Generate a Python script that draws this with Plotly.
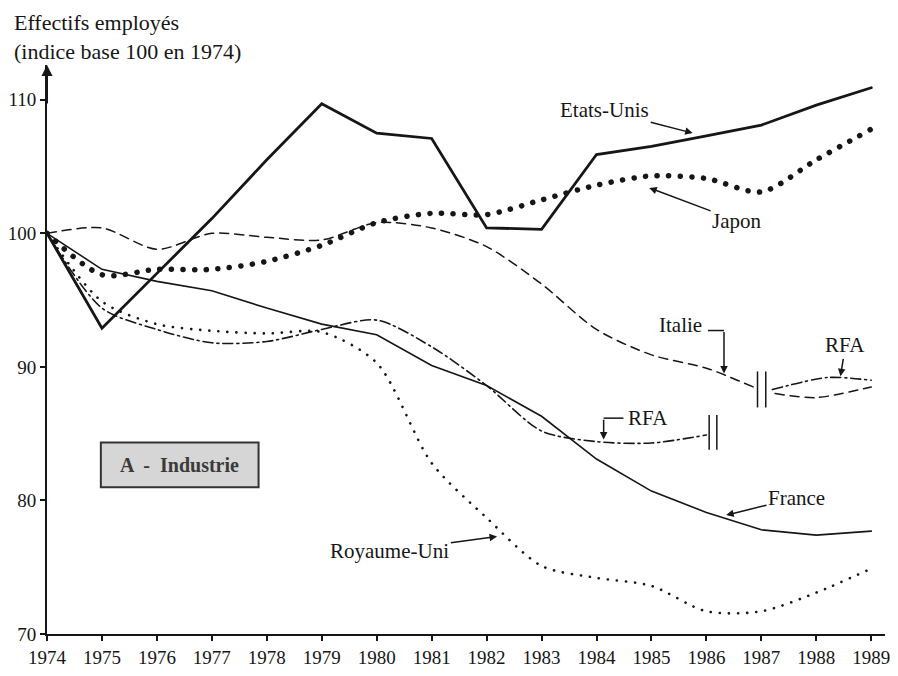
import plotly.graph_objects as go

# indices base 100 en 1974
annees = list(range(1974, 1990))
etats_unis = [100, 92.9, 97.0, 101.1, 105.5, 109.7, 107.5, 107.1, 100.4, 100.3, 105.9, 106.5, 107.3, 108.1, 109.6, 110.9]
japon = [100, 96.9, 97.3, 97.3, 97.9, 99.1, 100.8, 101.5, 101.4, 102.5, 103.6, 104.3, 104.1, 103.1, 105.5, 107.8]
france = [100, 97.3, 96.4, 95.7, 94.4, 93.2, 92.4, 90.1, 88.6, 86.3, 83.1, 80.7, 79.1, 77.8, 77.4, 77.7]
royaume_uni = [100, 94.9, 93.2, 92.7, 92.5, 92.6, 90.3, 82.8, 78.7, 75.1, 74.2, 73.6, 71.7, 71.7, 73.1, 74.9]

# series avec rupture (ancienne / nouvelle serie)
italie_annees = [1974, 1975, 1976, 1977, 1978, 1979, 1980, 1981, 1982, 1983, 1984, 1985, 1986, 1986.85]
italie = [100, 100.4, 98.8, 100.0, 99.7, 99.5, 100.8, 100.4, 99.0, 96.2, 92.8, 90.9, 89.9, 88.5]
italie_annees_2 = [1987.25, 1988, 1989]
italie_2 = [88.0, 87.7, 88.5]

rfa_annees = list(range(1974, 1987))
rfa = [100, 94.4, 92.8, 91.8, 91.9, 92.8, 93.5, 91.5, 88.6, 85.2, 84.4, 84.3, 84.9]
rfa_annees_2 = [1987.2, 1988.2, 1989]
rfa_2 = [88.3, 89.2, 89.0]

ticks_y = [70, 80, 90, 100, 110]

INK = "#161616"
SERIF = "Liberation Serif"

fig = go.Figure()
fig.add_trace(go.Scatter(x=annees, y=etats_unis, mode="lines", line=dict(color=INK, width=2.8)))
fig.add_trace(go.Scatter(x=annees, y=france, mode="lines", line=dict(color=INK, width=1.6)))
fig.add_trace(go.Scatter(x=annees, y=japon, mode="lines",
                         line=dict(color=INK, width=5.5, dash="0.1px,11.5px", shape="spline", smoothing=0.8)))
fig.add_trace(go.Scatter(x=annees, y=royaume_uni, mode="lines",
                         line=dict(color=INK, width=2.6, dash="0.1px,9px", shape="spline", smoothing=0.8)))
for xs, ys in [(italie_annees, italie), (italie_annees_2, italie_2)]:
    fig.add_trace(go.Scatter(x=xs, y=ys, mode="lines",
                             line=dict(color=INK, width=1.5, dash="9px,6px", shape="spline", smoothing=0.8)))
for xs, ys in [(rfa_annees, rfa), (rfa_annees_2, rfa_2)]:
    fig.add_trace(go.Scatter(x=xs, y=ys, mode="lines",
                             line=dict(color=INK, width=1.6, dash="10px,4px,2px,4px", shape="spline", smoothing=0.8)))

label_font = dict(family=SERIF, size=21, color=INK)
arrow = dict(showarrow=True, arrowhead=2, arrowsize=1, arrowwidth=1.5, arrowcolor=INK,
             axref="x", ayref="y", font=label_font)

annotations = [
    # titre de l'axe
    dict(text="Effectifs employés<br>(indice base 100 en 1974)", xref="paper", yref="paper",
         x=-0.0415, y=1.1, xanchor="left", yanchor="top", align="left", showarrow=False,
         font=dict(family=SERIF, size=22, color=INK)),
    # fleche de l'axe vertical
    dict(text="", xref="paper", yref="paper", x=0, y=1.0, ax=0, ay=40, showarrow=True,
         arrowhead=2, arrowsize=1.1, arrowwidth=2, arrowcolor=INK),
    dict(text="Etats-Unis", x=1985.75, y=107.5, ax=1984.15, ay=109.2, **arrow),
    dict(text="Japon", x=1984.96, y=103.4, ax=1986.55, ay=100.95, **arrow),
    dict(text="France", x=1986.36, y=78.9, ax=1987.64, ay=80.2, **arrow),
    dict(text="Royaume-Uni", x=1982.19, y=77.3, ax=1980.24, ay=76.2, **arrow),
    dict(text="RFA", x=1988.44, y=89.3, ax=1988.53, ay=91.6, **arrow),
    dict(text="Italie", x=1985.52, y=93.1, showarrow=False, font=label_font),
    dict(text="", x=1986.32, y=89.5, ax=1986.32, ay=92.72, **arrow),
    dict(text="RFA", x=1984.94, y=86.16, showarrow=False, font=label_font),
    dict(text="", x=1984.13, y=84.56, ax=1984.13, ay=86.16, **arrow),
    dict(text="<b>A  -  Industrie</b>", x=1976.41, y=82.67, showarrow=False,
         font=dict(family=SERIF, size=20, color="#3a3a3a")),
]

line_style = dict(color=INK, width=1.5)
shapes = [
    # coudes des fleches Italie / RFA
    dict(type="line", xref="x", yref="y", x0=1986.03, x1=1986.32, y0=92.72, y1=92.72, line=line_style),
    dict(type="line", xref="x", yref="y", x0=1984.49, x1=1984.13, y0=86.16, y1=86.16, line=line_style),
    # marques de rupture de serie
    dict(type="line", xref="x", yref="y", x0=1986.05, x1=1986.05, y0=83.8, y1=86.4, line=line_style),
    dict(type="line", xref="x", yref="y", x0=1986.19, x1=1986.19, y0=83.8, y1=86.4, line=line_style),
    dict(type="line", xref="x", yref="y", x0=1986.93, x1=1986.93, y0=86.96, y1=89.66, line=line_style),
    dict(type="line", xref="x", yref="y", x0=1987.08, x1=1987.08, y0=86.96, y1=89.66, line=line_style),
    # cadre "A - Industrie"
    dict(type="rect", xref="x", yref="y", x0=1974.98, x1=1977.85, y0=80.99, y1=84.34,
         fillcolor="#d6d6d6", line=dict(color="#333333", width=2), layer="below"),
]

fig.update_layout(
    width=898, height=676,
    margin=dict(l=47, r=8, t=65, b=26),
    paper_bgcolor="white", plot_bgcolor="white",
    showlegend=False,
    font=dict(family=SERIF, size=19, color=INK),
    annotations=annotations,
    shapes=shapes,
)
fig.update_xaxes(range=[1974, 1989.25], tickvals=annees, showgrid=False, zeroline=False,
                 showline=True, linecolor=INK, linewidth=2, ticks="outside", ticklen=5,
                 tickwidth=1.5, tickcolor=INK, ticklabeloverflow="allow",
                 tickfont=dict(family=SERIF, size=19, color=INK))
fig.update_yaxes(range=[70, 112.6], tickvals=ticks_y, showgrid=False, zeroline=False,
                 showline=True, linecolor=INK, linewidth=2, ticks="outside", ticklen=5,
                 tickwidth=1.5, tickcolor=INK, tickfont=dict(family=SERIF, size=19, color=INK))

# page sans marge + points ronds pour les series en pointilles
post = ("document.body.style.margin='0';"
        "document.body.style.overflow='hidden';"
        "var s=document.createElement('style');"
        "s.textContent='.scatterlayer .js-line{stroke-linecap:round;}';"
        "document.head.appendChild(s);")
fig.write_html("out.html", post_script=post, config={"displayModeBar": False})
